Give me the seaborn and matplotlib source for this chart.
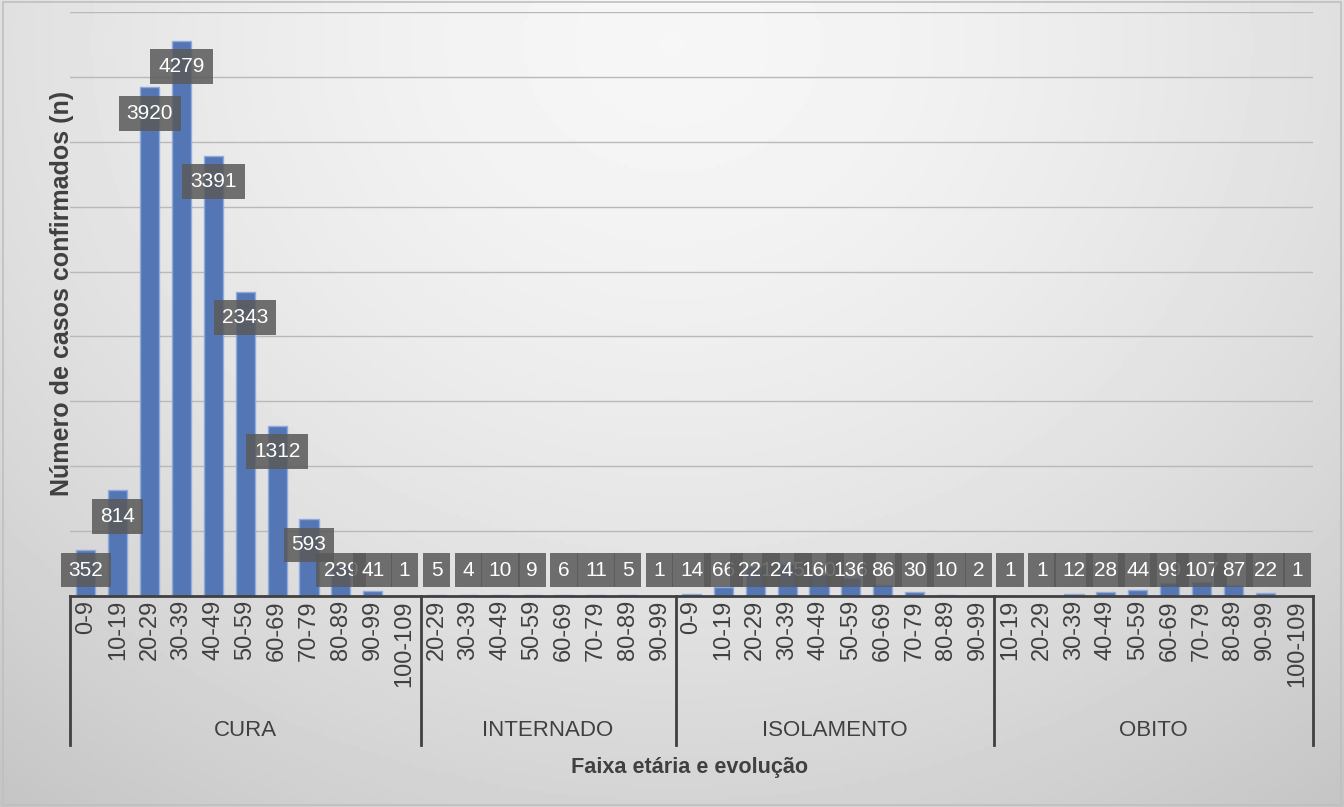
import numpy as np
import pandas as pd
import matplotlib
matplotlib.use('Agg')
import matplotlib.pyplot as plt
import matplotlib.transforms as mtransforms
import seaborn as sns

# --- data ---
groups = ['CURA', 'INTERNADO', 'ISOLAMENTO', 'OBITO']

cura_ages = ['0-9', '10-19', '20-29', '30-39', '40-49', '50-59', '60-69',
             '70-79', '80-89', '90-99', '100-109']
cura_vals = [352, 814, 3920, 4279, 3391, 2343, 1312, 593, 239, 41, 1]

internado_ages = ['20-29', '30-39', '40-49', '50-59', '60-69', '70-79', '80-89', '90-99']
internado_vals = [5, 4, 10, 9, 6, 11, 5, 1]

isolamento_ages = ['0-9', '10-19', '20-29', '30-39', '40-49', '50-59', '60-69',
                   '70-79', '80-89', '90-99']
isolamento_vals = [14, 66, 221, 245, 160, 136, 86, 30, 10, 2]

obito_ages = ['10-19', '20-29', '30-39', '40-49', '50-59', '60-69', '70-79',
              '80-89', '90-99', '100-109']
obito_vals = [1, 1, 12, 28, 44, 99, 107, 87, 22, 1]

ages_by_group = [cura_ages, internado_ages, isolamento_ages, obito_ages]
vals_by_group = [cura_vals, internado_vals, isolamento_vals, obito_vals]

rows = []
for g, ages, vals in zip(groups, ages_by_group, vals_by_group):
    for a, v in zip(ages, vals):
        rows.append({'grupo': g, 'faixa': a, 'key': f'{g}|{a}', 'n': v})
df = pd.DataFrame(rows)

W, H = 1344, 807
fig = plt.figure(figsize=(W / 100, H / 100), dpi=100)

# soft gray gradient background
bg = fig.add_axes([0, 0, 1, 1], zorder=-10)
xx, yy = np.meshgrid(np.linspace(0, 1, 400), np.linspace(0, 1, 240))
r = np.sqrt(((xx - 0.5) / 0.75) ** 2 + ((yy - 0.05) / 1.1) ** 2)
shade = 0.965 - 0.17 * r ** 1.6
bg.imshow(shade, cmap='gray', vmin=0, vmax=1, aspect='auto', extent=[0, 1, 1, 0])
bg.add_patch(plt.Rectangle((0.002, 0.002), 0.996, 0.996, fill=False,
                           ec='#bfbfbf', lw=1.2, transform=bg.transAxes))
bg.axis('off')

ax = fig.add_axes([70 / W, 1 - 596 / H, (1313 - 70) / W, (596 - 12) / H])
ax.patch.set_alpha(0)

sns.barplot(data=df, x='key', y='n', order=df['key'], color='#4472C4',
            width=0.6, edgecolor='#8faadc', linewidth=1, ax=ax, zorder=3)

ax.set_ylim(0, 4500)
ax.set_xlim(-0.5, len(df) - 0.5)
ax.set_yticks(np.arange(500, 4501, 500))
ax.set_yticklabels([])
ax.tick_params(axis='y', length=0)
ax.grid(axis='y', color='#b9b9b9', lw=1, zorder=0)
ax.set_axisbelow(True)
for s in ['top', 'right', 'left']:
    ax.spines[s].set_visible(False)
ax.spines['bottom'].set_color('#404040')
ax.spines['bottom'].set_linewidth(2)
ax.spines['bottom'].set_zorder(5)

ax.set_xticks(range(len(df)))
ax.set_xticklabels(df['faixa'], rotation=90, fontsize=17, color='#404040',
                   family='Liberation Sans', va='top')
ax.tick_params(axis='x', length=0, pad=3)
ax.set_xlabel('')
ax.set_ylabel('')

# data labels
for i, v in enumerate(df['n']):
    ax.text(i, max(v - 200, 200), str(v), ha='center', va='center',
            fontsize=15, color='white', family='Liberation Sans', zorder=6,
            bbox=dict(boxstyle='square,pad=0.38', fc='#595959', ec='none', alpha=0.85))

# multi-level category axis
trans = mtransforms.blended_transform_factory(ax.transData, ax.transAxes)
sizes = [len(a) for a in ages_by_group]
edges = np.concatenate([[0], np.cumsum(sizes)]) - 0.5
for e in edges:
    ax.plot([e, e], [0, -0.255], color='#404040', lw=2, transform=trans, clip_on=False)
for g, lo, hi in zip(groups, edges[:-1], edges[1:]):
    ax.text((lo + hi) / 2, -0.231, g, ha='center', va='center', fontsize=16,
            color='#404040', family='Liberation Sans', transform=trans)

fig.text(690 / W, 1 - 768 / H, 'Faixa etária e evolução', ha='center', va='center',
         fontsize=15.6, fontweight='bold', color='#404040', family='Liberation Sans')
fig.text(62 / W, 1 - 293 / H, 'Número de casos confirmados (n)', ha='center',
         va='center', rotation=90, fontsize=18, fontweight='bold', color='#404040',
         family='Liberation Sans')

fig.savefig('out.png', dpi=100)
